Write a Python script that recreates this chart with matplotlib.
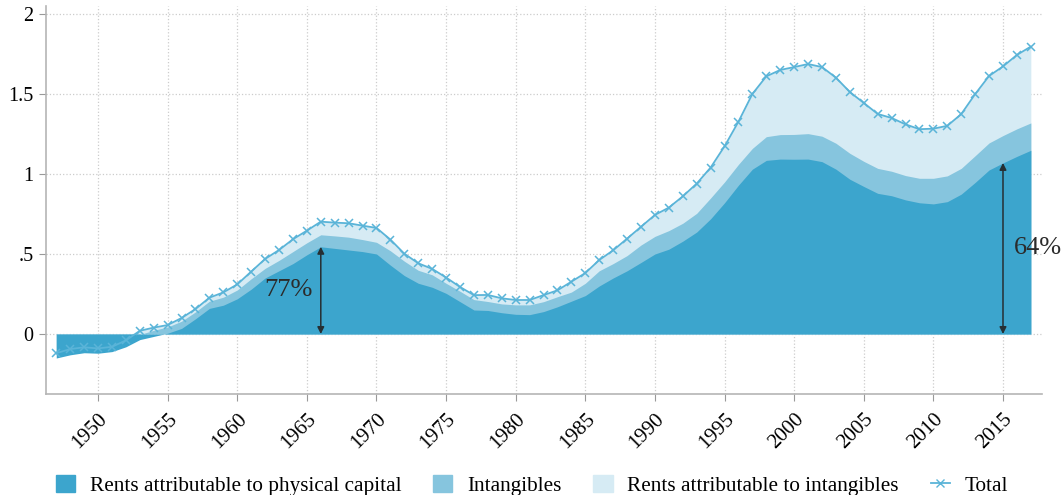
import numpy as np
import matplotlib.pyplot as plt
from matplotlib.patches import Patch
from matplotlib.lines import Line2D

plt.rcParams['font.family'] = ['Liberation Serif', 'DejaVu Serif']

years = np.arange(1947, 2018)

# rents attributable to physical capital (bottom layer)
physical = [-0.15, -0.13, -0.117, -0.12, -0.11, -0.08, -0.035, -0.015, 0.005, 0.035,
            0.095, 0.16, 0.18, 0.22, 0.28, 0.35, 0.395, 0.44, 0.495, 0.545,
            0.535, 0.525, 0.515, 0.5, 0.43, 0.365, 0.317, 0.292, 0.254, 0.202,
            0.15, 0.147, 0.133, 0.123, 0.121, 0.14, 0.17, 0.205, 0.24, 0.3,
            0.35, 0.395, 0.447, 0.5, 0.53, 0.58, 0.637, 0.72, 0.82, 0.93,
            1.03, 1.085, 1.093, 1.092, 1.093, 1.077, 1.03, 0.967, 0.922, 0.879,
            0.864, 0.838, 0.82, 0.813, 0.827, 0.874, 0.947, 1.025, 1.069, 1.11,
            1.148]

# intangibles (middle layer thickness)
intangibles = [0.02, 0.024, 0.022, 0.02, 0.02, 0.025, 0.032, 0.038, 0.039, 0.045,
               0.043, 0.045, 0.05, 0.055, 0.065, 0.06, 0.065, 0.075, 0.075, 0.075,
               0.078, 0.08, 0.075, 0.073, 0.09, 0.09, 0.081, 0.078, 0.063, 0.065,
               0.065, 0.056, 0.055, 0.059, 0.061, 0.062, 0.063, 0.057, 0.077, 0.095,
               0.09, 0.095, 0.109, 0.11, 0.116, 0.112, 0.117, 0.13, 0.13, 0.13,
               0.13, 0.148, 0.153, 0.155, 0.159, 0.159, 0.162, 0.162, 0.157, 0.156,
               0.153, 0.152, 0.153, 0.16, 0.161, 0.161, 0.167, 0.169, 0.171, 0.172,
               0.171]

# total rents (top of the stack)
total = [-0.12, -0.094, -0.083, -0.09, -0.08, -0.04, 0.02, 0.04, 0.056, 0.1,
         0.156, 0.227, 0.26, 0.31, 0.39, 0.469, 0.525, 0.592, 0.646, 0.702,
         0.696, 0.692, 0.677, 0.663, 0.59, 0.502, 0.442, 0.407, 0.353, 0.294,
         0.243, 0.244, 0.223, 0.2125, 0.2125, 0.243, 0.273, 0.327, 0.381, 0.4625,
         0.523, 0.596, 0.67, 0.744, 0.79, 0.86, 0.94, 1.04, 1.173, 1.327,
         1.5, 1.61, 1.65, 1.668, 1.687, 1.668, 1.602, 1.512, 1.444, 1.375,
         1.35, 1.31, 1.28, 1.283, 1.301, 1.374, 1.499, 1.6125, 1.672, 1.744,
         1.796]

share_years = [1966, 2015]
share_labels = ['77%', '64%']

c_phys = '#3ca5cd'
c_int = '#86c5de'
c_rent = '#d6ebf4'
c_line = '#5ab4d8'

physical = np.array(physical)
mid = physical + np.array(intangibles)
total = np.array(total)

fig = plt.figure(figsize=(10.64, 4.95), dpi=100)
ax = fig.add_axes([0.0432, 0.204, 0.9361, 0.784])

# areas drawn from zero, largest first (Stata style)
ax.fill_between(years, 0, total, color=c_rent, linewidth=0)
ax.fill_between(years, 0, mid, color=c_int, linewidth=0)
ax.fill_between(years, 0, physical, color=c_phys, linewidth=0)
ax.plot(years, total, color=c_line, lw=1.3, marker='x', ms=6, mew=1.1)

# share annotations
for yr, lab, dx, ha in zip(share_years, share_labels, [-0.6, 0.8], ['right', 'left']):
    top = physical[years == yr][0]
    ax.annotate('', xy=(yr, 0), xytext=(yr, top),
                arrowprops=dict(arrowstyle='<|-|>', color='#262f33', lw=1.1,
                                mutation_scale=10, shrinkA=0, shrinkB=0))
    ax.text(yr + dx, top / 2, lab, fontsize=19, color='#2b2b2b', ha=ha, va='center')

ax.set_xlim(1946.26, 2017.8)
ax.set_ylim(-0.375, 2.05)
ax.set_xticks(np.arange(1950, 2016, 5))
ax.set_xticklabels([str(y) for y in range(1950, 2016, 5)], rotation=45,
                   ha='right', rotation_mode='anchor', fontsize=15)
ax.set_yticks([0, 0.5, 1, 1.5, 2])
ax.set_yticklabels(['0', '.5', '1', '1.5', '2'], fontsize=14.5)
ax.tick_params(axis='both', color='#999999', length=5, width=0.8, pad=4)
ax.tick_params(axis='x', pad=6)
ax.grid(True, color='#cccccc', linestyle=':', linewidth=0.9)
ax.set_axisbelow(True)
for s in ['top', 'right']:
    ax.spines[s].set_visible(False)
for s in ['left', 'bottom']:
    ax.spines[s].set_color('#b5b5b5')
    ax.spines[s].set_linewidth(1.2)

handles = [Patch(color=c_phys), Patch(color=c_int), Patch(color=c_rent),
           Line2D([], [], color=c_line, lw=1.3, marker='x', ms=6)]
labels = ['Rents attributable to physical capital', 'Intangibles',
          'Rents attributable to intangibles', 'Total']
fig.legend(handles, labels, loc='lower center', bbox_to_anchor=(0.5, -0.04), ncol=4,
           frameon=False, fontsize=15.3, handlelength=0.9, handleheight=0.9,
           columnspacing=1.5, handletextpad=0.7)

fig.savefig('out.png', dpi=100)
